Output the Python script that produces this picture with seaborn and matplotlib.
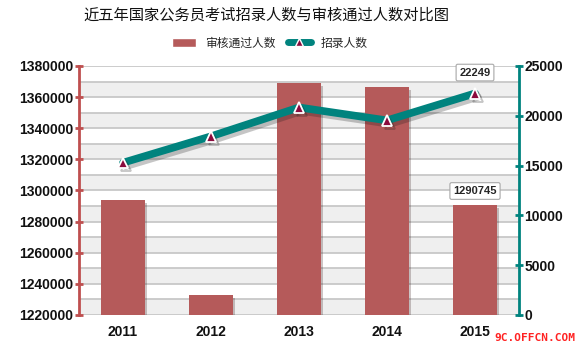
import numpy as np
import pandas as pd
import matplotlib
matplotlib.use("Agg")
import matplotlib.pyplot as plt
import matplotlib.patheffects as pe
from matplotlib.patches import Patch
from matplotlib.lines import Line2D
from matplotlib.font_manager import FontProperties
from matplotlib.ticker import StrMethodFormatter
import seaborn as sns

# Data
years = ["2011", "2012", "2013", "2014", "2015"]
approved = [1294000, 1233000, 1369000, 1366500, 1290745]   # 审核通过人数
recruited = [15290, 17941, 20839, 19538, 22249]            # 招录人数

title = "近五年国家公务员考试招录人数与审核通过人数对比图"
bar_label = "审核通过人数"
line_label = "招录人数"
watermark = "9C.OFFCN.COM"

sns.set_theme(style="white")
plt.rcParams["font.family"] = ["Noto Sans CJK SC", "DejaVu Sans"]

BAR = "#b55a5a"
TEAL = "#00837e"
AXRED = "#bf4f4f"
MARK = "#8a0b3d"
num_fp = FontProperties(family=["Liberation Sans Narrow", "Liberation Sans"], weight="bold", size=10)
box_fp = FontProperties(family=["Liberation Sans Narrow", "Liberation Sans"], weight="bold", size=8)

df = pd.DataFrame({"year": years, "approved": approved, "recruited": recruited})

fig = plt.figure(figsize=(5.8, 3.47), dpi=100)
ax = fig.add_axes([79 / 580, 1 - 315 / 347, 440 / 580, 249 / 347])

# alternating horizontal bands and grid lines
lo, hi, step = 1220000, 1380000, 10000
for y0 in range(lo, hi, 2 * step):
    ax.axhspan(y0, y0 + step, color="#efefef", zorder=0, lw=0)
for y in range(lo, hi + 1, step):
    ax.axhline(y, color="#c8c8c8", lw=1.3, zorder=0.5)

sns.barplot(data=df, x="year", y="approved", color=BAR, saturation=1,
            width=0.49, linewidth=0, ax=ax, zorder=2)
for bar in ax.containers[0]:
    bar.set_path_effects([pe.SimplePatchShadow(offset=(2, -2), alpha=0.25), pe.Normal()])

ax.set_ylim(lo, hi)
ax.set_yticks(range(lo, hi + 1, 20000))
ax.yaxis.set_major_formatter(StrMethodFormatter("{x:.0f}"))
ax.set_xlim(-0.5, len(years) - 0.5)
ax.set_xlabel("")
ax.set_ylabel("")
ax.grid(False)

# recruitment line on secondary axis
ax2 = ax.twinx()
ax2.patch.set_visible(False)
xs = np.arange(len(years))
sns.lineplot(x=xs, y=recruited, ax=ax2, color=TEAL, lw=5.5, marker="^",
             markersize=7.5, markerfacecolor=MARK, markeredgecolor="white",
             markeredgewidth=1.3, zorder=3)
for ln in ax2.lines:
    ln.set_path_effects([pe.SimpleLineShadow(offset=(2, -2.5), alpha=0.25), pe.Normal()])
ax2.set_ylim(0, 25000)
ax2.set_yticks(range(0, 25001, 5000))
ax2.yaxis.set_major_formatter(StrMethodFormatter("{x:.0f}"))
ax2.set_xlim(-0.5, len(years) - 0.5)
ax2.set_ylabel("")
ax2.grid(False)

# spines and ticks
for a in (ax, ax2):
    for s in ("top", "bottom"):
        a.spines[s].set_visible(False)
ax.spines["right"].set_visible(False)
ax2.spines["left"].set_visible(False)
ax.spines["left"].set_color(AXRED)
ax.spines["left"].set_linewidth(2)
ax2.spines["right"].set_color(TEAL)
ax2.spines["right"].set_linewidth(2)

ax.tick_params(axis="y", left=True, direction="inout", length=6, width=2,
               color=AXRED, pad=1, labelcolor="#111111")
ax.tick_params(axis="x", bottom=False, pad=1, labelcolor="#111111")
ax2.tick_params(axis="y", right=True, direction="inout", length=6, width=2,
                color=TEAL, pad=1, labelcolor="#111111")
for lbl in ax.get_yticklabels() + ax2.get_yticklabels() + ax.get_xticklabels():
    lbl.set_fontproperties(num_fp)

# value labels for the last year
box = dict(boxstyle="round,pad=0.3,rounding_size=0.15", fc="white", ec="#a8a8a8", lw=0.8)
ax2.annotate(f"{recruited[-1]}", xy=(xs[-1], recruited[-1]), xytext=(0, 15),
             textcoords="offset points", ha="center", va="center",
             fontproperties=box_fp, bbox=box, zorder=5)
ax2.annotate(f"{approved[-1]}", xy=(xs[-1], (approved[-1] - lo) / (hi - lo) * 25000),
             xytext=(0, 10), textcoords="offset points", ha="center", va="center",
             fontproperties=box_fp, bbox=box, zorder=5)

# title and legend
fig.text(266 / 580, 1 - 15 / 347, title, ha="center", va="center", fontsize=11,
         fontweight="medium", color="#111111")
handles = [
    Patch(facecolor=BAR, label=bar_label),
    Line2D([], [], color=TEAL, lw=5, marker="^", markerfacecolor=MARK,
           markeredgecolor="white", markersize=6, label=line_label),
]
fig.legend(handles=handles, loc="center", bbox_to_anchor=(270 / 580, 1 - 43 / 347),
           ncol=2, frameon=False, fontsize=8.5, handlelength=2.0, handleheight=0.9,
           columnspacing=1.0, handletextpad=0.8)

fig.text(575 / 580, 1 - 338 / 347, watermark, ha="right", va="center",
         color="#ff2222", fontsize=8, fontweight="bold", family="DejaVu Sans Mono")

fig.savefig("out.png", dpi=100)
